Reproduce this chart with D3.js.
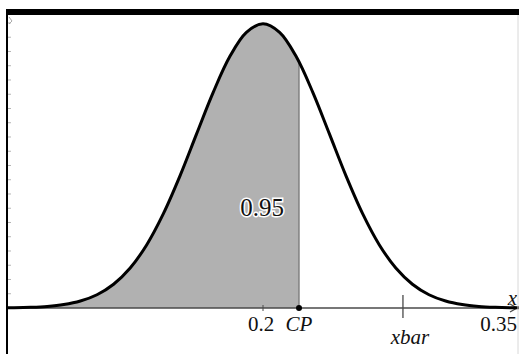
<!DOCTYPE html>
<html>
<head>
<meta charset="utf-8">
<script src="https://cdn.jsdelivr.net/npm/d3@7"></script>
<style>
  body { margin: 0; background: #fff; }
  svg { display: block; }
</style>
</head>
<body>
<svg id="chart" width="519" height="354"></svg>
<script>
// values
var curveX = [0.04, 0.05, 0.06, 0.07, 0.08, 0.09, 0.10, 0.11, 0.12, 0.13, 0.14, 0.15, 0.16, 0.17, 0.18, 0.19, 0.20,
              0.21, 0.22, 0.23, 0.24, 0.25, 0.26, 0.27, 0.28, 0.29, 0.30, 0.31, 0.32, 0.33, 0.34, 0.35, 0.36];
var curveY = [0.004, 0.010, 0.025, 0.056, 0.121, 0.245, 0.466, 0.834, 1.403, 2.222, 3.310, 4.635, 6.108, 7.565, 8.820, 9.669, 9.970,
              9.669, 8.820, 7.565, 6.108, 4.635, 3.310, 2.222, 1.403, 0.834, 0.466, 0.245, 0.121, 0.056, 0.025, 0.010, 0.004];
var xTickValues = [0.2, 0.35];
var xTickLabels = ["0.2", "0.35"];
var cp = 0.2217;          // critical point
var cpDensity = 8.63;     // curve height at CP
var xbar = 0.2843;
var areaLabel = "0.95";

var width = 519, height = 354;
var serif = "Liberation Serif, serif";
var svg = d3.select("#chart");

var x = d3.scaleLinear().domain([0.0458, 0.3542]).range([7, 519]);
var y = d3.scaleLinear().domain([0, 10.28]).range([308, 15]);

var pts = curveX.map((v, i) => ({x: v, y: curveY[i]}));

svg.append("defs").append("clipPath").attr("id", "plot")
    .append("rect").attr("x", 7).attr("y", 15).attr("width", width - 7).attr("height", 300);
svg.select("defs").append("clipPath").attr("id", "shade")
    .append("rect").attr("x", 7).attr("y", 15).attr("width", x(cp) - 7).attr("height", 293);

// shaded region left of CP
svg.append("path")
    .datum(pts)
    .attr("clip-path", "url(#shade)")
    .attr("fill", "#b1b1b1")
    .attr("d", d3.area().x(d => x(d.x)).y0(y(0)).y1(d => y(d.y)).curve(d3.curveCatmullRom));

// edge of shading at CP
svg.append("line")
    .attr("x1", x(cp)).attr("x2", x(cp))
    .attr("y1", y(0)).attr("y2", y(cpDensity))
    .attr("stroke", "#6e6e6e").attr("stroke-width", 1.2);

// y axis ticks (faint)
svg.append("g").selectAll("line")
    .data(y.ticks(20).filter(t => t > 0))
    .join("line")
    .attr("x1", 8).attr("x2", 11)
    .attr("y1", d => y(d)).attr("y2", d => y(d))
    .attr("stroke", "#b5b5b5").attr("stroke-width", 1);

// x axis
svg.append("line")
    .attr("x1", 7).attr("x2", 516)
    .attr("y1", y(0)).attr("y2", y(0))
    .attr("stroke", "#4a4a4a").attr("stroke-width", 1.5);
svg.append("path")
    .attr("d", `M510,${y(0) - 4}L517,${y(0)}L510,${y(0) + 4}`)
    .attr("fill", "none").attr("stroke", "#4a4a4a").attr("stroke-width", 1.3);

svg.append("g").selectAll("line")
    .data(xTickValues.slice(0, 1))
    .join("line")
    .attr("x1", d => x(d)).attr("x2", d => x(d))
    .attr("y1", y(0) - 3).attr("y2", y(0) + 3)
    .attr("stroke", "#4a4a4a").attr("stroke-width", 1);

// xbar marker
svg.append("line")
    .attr("x1", x(xbar)).attr("x2", x(xbar))
    .attr("y1", y(0) - 13).attr("y2", y(0) + 10)
    .attr("stroke", "#4a4a4a").attr("stroke-width", 1.3);

// normal curve
svg.append("path")
    .datum(pts)
    .attr("clip-path", "url(#plot)")
    .attr("fill", "none")
    .attr("stroke", "#000")
    .attr("stroke-width", 3)
    .attr("stroke-linejoin", "round")
    .attr("d", d3.line().x(d => x(d.x)).y(d => y(d.y)).curve(d3.curveCatmullRom));

// CP point
svg.append("circle")
    .attr("cx", x(cp)).attr("cy", y(0)).attr("r", 3)
    .attr("fill", "#000");

// text labels
var labels = svg.append("g").attr("font-family", serif).attr("fill", "#111");
labels.append("text")
    .attr("x", x(xTickValues[0]) - 2).attr("y", 331)
    .attr("text-anchor", "middle").attr("font-size", 21)
    .text(xTickLabels[0]);
labels.append("text")
    .attr("x", Math.min(x(xTickValues[1]) + 16, width - 2)).attr("y", 331)
    .attr("text-anchor", "end").attr("font-size", 21)
    .text(xTickLabels[1]);
labels.append("text")
    .attr("x", x(cp)).attr("y", 331)
    .attr("text-anchor", "middle").attr("font-size", 21).attr("font-style", "italic")
    .text("CP");
labels.append("text")
    .attr("x", x(xbar) + 7).attr("y", 344)
    .attr("text-anchor", "middle").attr("font-size", 21).attr("font-style", "italic")
    .text("xbar");
labels.append("text")
    .attr("x", 517).attr("y", 305)
    .attr("text-anchor", "end").attr("font-size", 21).attr("font-style", "italic")
    .text("x");

// area label with white halo
labels.append("text")
    .attr("x", x(cp) - 15).attr("y", 216)
    .attr("text-anchor", "end").attr("font-size", 25)
    .attr("stroke", "#fff").attr("stroke-width", 3).attr("paint-order", "stroke")
    .text(areaLabel);

// frame: title bar, y axis line, right edge
svg.append("rect").attr("x", 6).attr("y", 9).attr("width", width - 6).attr("height", 6).attr("fill", "#000");
svg.append("line").attr("x1", 7).attr("x2", 7).attr("y1", 9).attr("y2", height)
    .attr("stroke", "#000").attr("stroke-width", 2);
svg.append("line").attr("x1", 518).attr("x2", 518).attr("y1", 15).attr("y2", height)
    .attr("stroke", "#d8d8d8").attr("stroke-width", 1);
svg.append("path")
    .attr("d", "M9,17L12,21L9,24")
    .attr("fill", "none").attr("stroke", "#aaa").attr("stroke-width", 1);
</script>
</body>
</html>
